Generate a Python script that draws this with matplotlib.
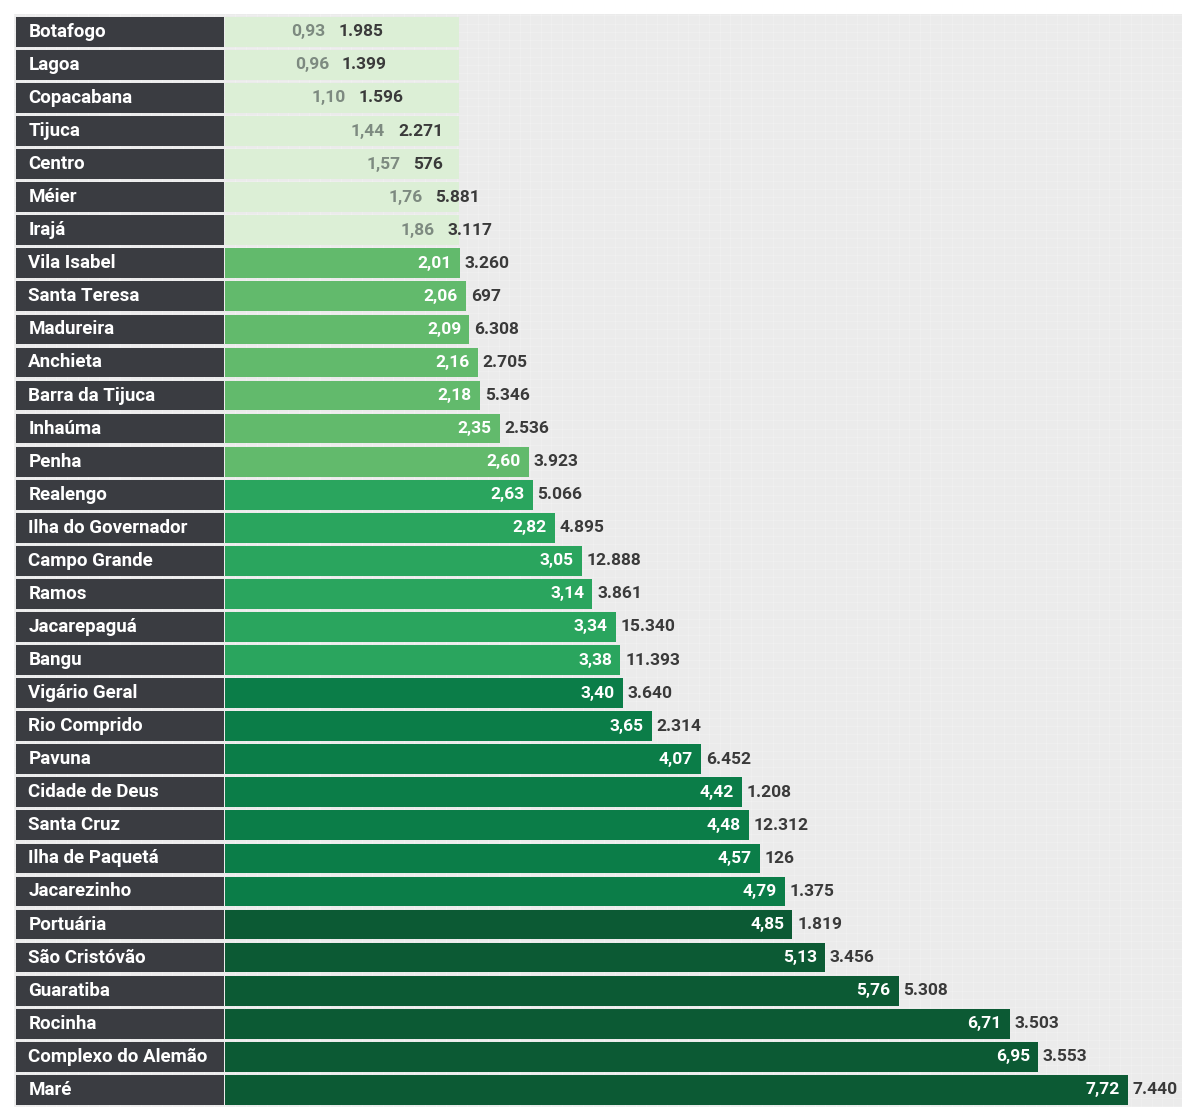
import matplotlib
matplotlib.use("Agg")
import matplotlib.pyplot as plt
import numpy as np

# Bairros do Rio de Janeiro: taxa (valor dentro da barra) e total (ao lado)
bairros = ["Botafogo", "Lagoa", "Copacabana", "Tijuca", "Centro", "Méier", "Irajá",
           "Vila Isabel", "Santa Teresa", "Madureira", "Anchieta", "Barra da Tijuca",
           "Inhaúma", "Penha", "Realengo", "Ilha do Governador", "Campo Grande", "Ramos",
           "Jacarepaguá", "Bangu", "Vigário Geral", "Rio Comprido", "Pavuna",
           "Cidade de Deus", "Santa Cruz", "Ilha de Paquetá", "Jacarezinho", "Portuária",
           "São Cristóvão", "Guaratiba", "Rocinha", "Complexo do Alemão", "Maré"]
taxa = [0.93, 0.96, 1.10, 1.44, 1.57, 1.76, 1.86,
        2.01, 2.06, 2.09, 2.16, 2.18, 2.35, 2.60,
        2.63, 2.82, 3.05, 3.14, 3.34, 3.38,
        3.40, 3.65, 4.07, 4.42, 4.48, 4.57, 4.79,
        4.85, 5.13, 5.76, 6.71, 6.95, 7.72]
total = [1985, 1399, 1596, 2271, 576, 5881, 3117,
         3260, 697, 6308, 2705, 5346, 2536, 3923,
         5066, 4895, 12888, 3861, 15340, 11393,
         3640, 2314, 6452, 1208, 12312, 126, 1375,
         1819, 3456, 5308, 3503, 3553, 7440]

# faixas de cor (limites superiores) e cores
limites = [2.0, 2.62, 3.39, 4.80, 99]
cores = ["#dcefd6", "#62ba6c", "#2aa55e", "#0b7d48", "#0c5a34"]

def fmt_taxa(v):
    return f"{v:.2f}".replace(".", ",")

def fmt_total(n):
    return f"{n:,}".replace(",", ".")

plt.rcParams['font.family'] = ['Roboto', 'DejaVu Sans']

fig = plt.figure(figsize=(11.82, 11.07), dpi=100)
fig.patch.set_facecolor("white")
ax = fig.add_axes([14/1182, 0, 1 - 14/1182, 1 - 14/1107])
ax.set_facecolor("#ebebeb")

n = len(bairros)
y = np.arange(n)
alt = 0.9

# textura de grade suave ao fundo
for gx in np.arange(-1.8, 8.2, 0.09):
    ax.axvline(gx, color="white", lw=0.8, alpha=0.18, zorder=0)
for gy in np.arange(-0.5, n, 0.25):
    ax.axhline(gy, color="white", lw=0.8, alpha=0.18, zorder=0)

x_esq = -1.79
for i in range(n):
    v = taxa[i]
    g = int(np.searchsorted(limites, v))
    cor = cores[g]
    # caixa do nome do bairro
    ax.barh(y[i], -x_esq - 0.01, left=x_esq, height=alt, color="#3a3c41", zorder=2)
    ax.text(x_esq + 0.11, y[i], bairros[i], color="white", fontsize=13.5,
            fontweight="bold", va="center", ha="left", zorder=3)
    if g == 0:
        # faixa clara ate 2,0
        ax.barh(y[i], limites[0], left=0, height=alt, color=cor, zorder=2)
        cor_txt = "#7d8a80"
    else:
        ax.barh(y[i], v, left=0, height=alt, color=cor, zorder=2)
        cor_txt = "white"
    ax.text(v - 0.07, y[i], fmt_taxa(v), color=cor_txt, fontsize=12.5,
            fontweight="bold", va="center", ha="right", zorder=3)
    ax.text(v + 0.04, y[i], fmt_total(total[i]), color="#3a3a3a", fontsize=12.5,
            fontweight="bold", va="center", ha="left", zorder=3)

ax.set_xlim(-1.803, 8.18)
ax.set_ylim(n - 0.5 + 0.02, -0.5 - 0.04)
ax.set_xticks([])
ax.set_yticks([])
for s in ax.spines.values():
    s.set_visible(False)

fig.savefig("out.png", dpi=100)
